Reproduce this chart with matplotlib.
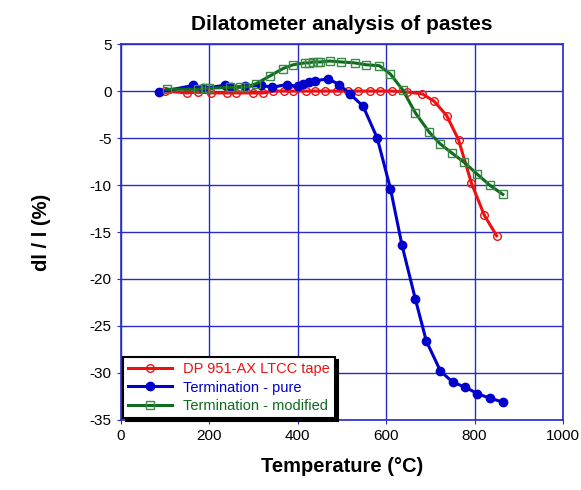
import matplotlib
matplotlib.use('Agg')
import matplotlib.pyplot as plt

plt.rcParams['font.family'] = ['Liberation Sans', 'DejaVu Sans']
plt.rcParams['axes.unicode_minus'] = False

# DP 951-AX LTCC tape
tape_T = [100, 150, 175, 205, 240, 260, 300, 322, 345, 370, 390, 420, 440, 462,
          489, 514, 537, 564, 586, 613, 648, 682, 709, 737, 764, 793, 822, 850]
tape_dl = [0.0, -0.2, -0.1, -0.2, -0.2, -0.2, -0.2, -0.2, 0.0, 0.0, 0.0, 0.0, 0.0, 0.0,
           0.0, 0.0, 0.0, 0.0, 0.0, 0.0, -0.1, -0.3, -1.1, -2.6, -5.2, -9.8, -13.2, -15.4]

# Termination - pure
pure_T = [87, 164, 185, 235, 250, 281, 318, 343, 375, 400, 412, 425, 440, 469,
          494, 518, 548, 580, 610, 636, 666, 691, 723, 751, 779, 806, 836, 864]
pure_dl = [-0.1, 0.6, 0.3, 0.6, 0.4, 0.5, 0.6, 0.4, 0.7, 0.5, 0.8, 1.0, 1.1, 1.3,
           0.7, -0.3, -1.6, -5.0, -10.4, -16.4, -22.1, -26.6, -29.8, -31.0, -31.5, -32.2, -32.7, -33.1]

# Termination - modified
mod_T = [104, 175, 190, 200, 247, 269, 280, 307, 337, 367, 390, 416, 425, 435,
         445, 451, 473, 499, 529, 555, 585, 610, 638, 666, 698, 722, 749, 777,
         805, 834, 864]
mod_dl = [0.2, 0.2, 0.3, 0.3, 0.4, 0.4, 0.4, 0.8, 1.6, 2.4, 2.8, 3.0, 3.0, 3.1,
          3.1, 3.1, 3.2, 3.1, 3.0, 2.8, 2.7, 1.8, 0.1, -2.3, -4.4, -5.6, -6.6, -7.6,
          -8.8, -10.0, -11.0]

x_ticks = [0, 200, 400, 600, 800, 1000]
y_ticks = [5, 0, -5, -10, -15, -20, -25, -30, -35]

grid_blue = '#2a2ac8'

fig = plt.figure(figsize=(5.81, 4.90), dpi=100)
ax = fig.add_axes([0.2077, 0.143, 0.7613, 0.767])

ax.plot(tape_T, tape_dl, color='#ee1111', lw=2.2, marker='o', ms=5.5,
        mfc='none', mec='#ee1111', mew=1.0, label='DP 951-AX LTCC tape', zorder=3)
ax.plot(pure_T, pure_dl, color='#0000cc', lw=2.2, marker='o', ms=6,
        mfc='#0000cc', mec='#0000cc', label='Termination - pure', zorder=4)
ax.plot(mod_T, mod_dl, color='#0f6b1f', lw=2.2, marker='s', ms=5.5,
        mfc='none', mec='#3a8a45', mew=1.0, label='Termination - modified', zorder=5)

ax.set_xlim(0, 1000)
ax.set_ylim(-35, 5)
ax.set_xticks(x_ticks)
ax.set_yticks(y_ticks)
ax.grid(True, color=grid_blue, lw=1.0)
ax.set_axisbelow(True)
for s in ax.spines.values():
    s.set_color(grid_blue)
    s.set_linewidth(1.2)
ax.tick_params(colors=grid_blue, labelcolor='black', labelsize=11, length=3,
               direction='out')

ax.set_title('Dilatometer analysis of pastes', fontsize=15, fontweight='bold', pad=10)
ax.set_xlabel('Temperature (°C)', fontsize=14.5, fontweight='bold', labelpad=10)
ax.set_ylabel('dl / l (%)', fontsize=14.5, fontweight='bold', labelpad=28)

leg = ax.legend(loc='lower left', bbox_to_anchor=(0.005, 0.005), fontsize=10.5,
                fancybox=False, framealpha=1, edgecolor='black', handlelength=3,
                borderpad=0.35, labelspacing=0.3, borderaxespad=0,
                shadow={'color': 'black', 'alpha': 1, 'ox': 2, 'oy': -2})
leg.get_frame().set_linewidth(1.5)
for txt, c in zip(leg.get_texts(), ['#ee1111', '#0000cc', '#0f6b1f']):
    txt.set_color(c)

fig.savefig('out.png', dpi=100)
